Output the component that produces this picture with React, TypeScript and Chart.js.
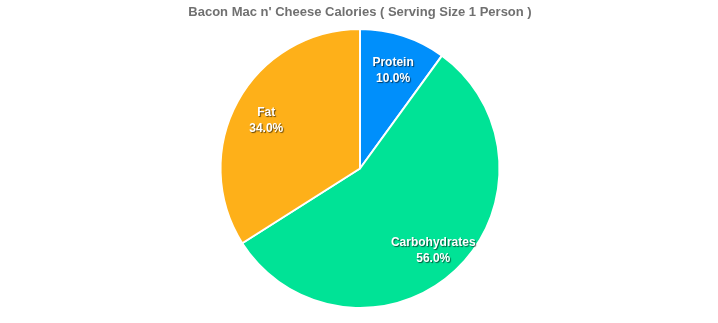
import React, { useEffect, useRef } from "react";
import { Chart, registerables } from "chart.js";

Chart.register(...registerables);

const categories = ["Protein", "Carbohydrates", "Fat"];
const values = [10, 56, 34];
const colors = ["#008FFB", "#00E396", "#FEB019"];
const titleText = "Bacon Mac n' Cheese Calories ( Serving Size 1 Person )";

const labelPlugin = {
  id: "sliceLabels",
  afterDatasetsDraw(chart: any) {
    const ctx = chart.ctx;
    const meta = chart.getDatasetMeta(0);
    const total = values.reduce((a, b) => a + b, 0);
    ctx.save();
    ctx.font = "bold 12px 'Liberation Sans', Arial, sans-serif";
    ctx.textAlign = "center";
    ctx.textBaseline = "middle";
    ctx.fillStyle = "#ffffff";
    ctx.shadowColor = "rgba(0,0,0,0.6)";
    ctx.shadowBlur = 1;
    ctx.shadowOffsetX = 1;
    ctx.shadowOffsetY = 1;
    meta.data.forEach((arc: any, i: number) => {
      const { x, y, startAngle, endAngle, outerRadius } = arc.getProps(
        ["x", "y", "startAngle", "endAngle", "outerRadius"],
        true
      );
      const mid = (startAngle + endAngle) / 2;
      const r = outerRadius * 0.767;
      const lx = x + Math.cos(mid) * r;
      const ly = y + Math.sin(mid) * r + 4;
      const pct = ((values[i] / total) * 100).toFixed(1) + "%";
      ctx.fillText(categories[i], lx, ly - 8);
      ctx.fillText(pct, lx, ly + 8);
    });
    ctx.restore();
  },
};

const titlePlugin = {
  id: "customTitle",
  afterDraw(chart: any) {
    const ctx = chart.ctx;
    ctx.save();
    ctx.font = "bold 13px 'Liberation Sans', Arial, sans-serif";
    ctx.fillStyle = "#707070";
    ctx.textAlign = "center";
    ctx.textBaseline = "middle";
    ctx.fillText(titleText, 360, 12);
    ctx.restore();
  },
};

export default function App() {
  const ref = useRef<HTMLCanvasElement>(null);
  useEffect(() => {
    document.body.style.margin = "0";
    const chart = new Chart(ref.current!, {
      type: "pie",
      data: {
        labels: categories,
        datasets: [
          {
            data: values,
            backgroundColor: colors,
            borderColor: "#ffffff",
            borderWidth: 2,
            hoverOffset: 0,
          },
        ],
      },
      options: {
        responsive: false,
        animation: false,
        layout: { padding: { top: 28, bottom: 14, left: 2, right: 0 } },
        plugins: {
          legend: { display: false },
          title: { display: false },
          tooltip: { enabled: false },
        },
      },
      plugins: [labelPlugin, titlePlugin],
    });
    return () => chart.destroy();
  }, []);
  return (
    <div style={{ width: 718, height: 323 }}>
      <canvas ref={ref} width={718} height={323} style={{ display: "block" }} />
    </div>
  );
}
